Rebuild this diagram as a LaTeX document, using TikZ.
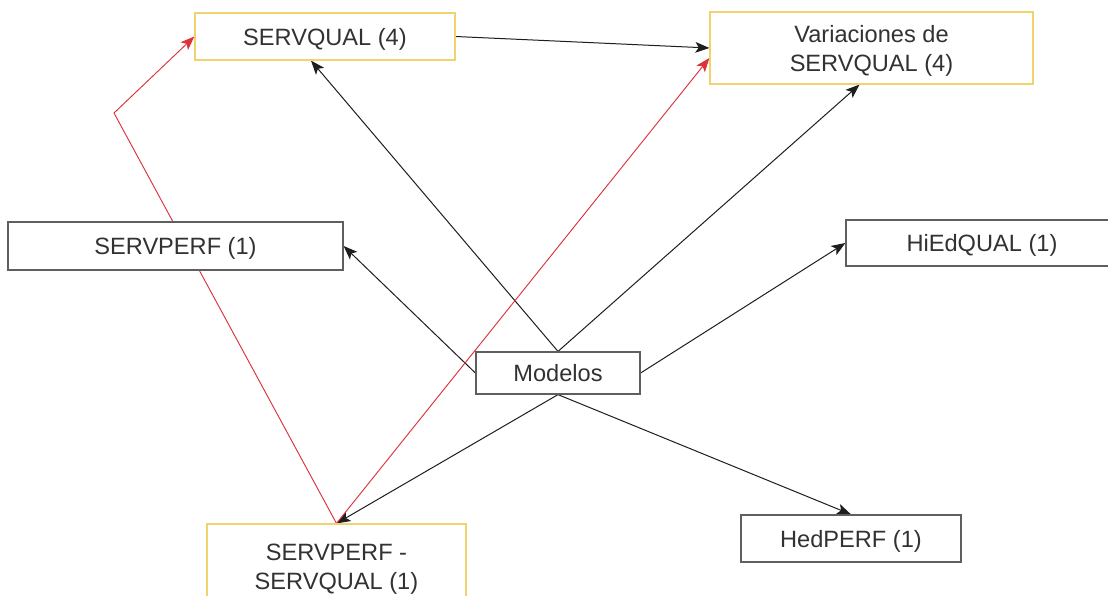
\documentclass[tikz,border=0pt]{standalone}
\usepackage{fontspec}
\setmainfont{Liberation Sans}
\usetikzlibrary{arrows.meta,backgrounds,calc}
\definecolor{boxgray}{RGB}{95,95,95}
\definecolor{boxyellow}{RGB}{240,210,110}
\definecolor{txt}{RGB}{50,50,50}
\definecolor{arrowblack}{RGB}{30,30,30}
\definecolor{arrowred}{RGB}{220,50,60}
\tikzset{
  box/.style={draw=boxgray, line width=0.9pt, fill=white, text=txt, align=center,
    inner sep=0pt, text depth=0pt, font=\fontsize{17.7}{21.8}\selectfont},
  ybox/.style={box, draw=boxyellow},
  blk/.style={draw=arrowblack, line width=0.75pt, -{Stealth[length=10.5pt,width=8pt,inset=2.5pt]}},
  redarr/.style={draw=arrowred, line width=0.7pt, -{Stealth[length=10.5pt,width=8pt,inset=2.5pt]}},
}
\begin{document}
\begin{tikzpicture}[x=0.75pt,y=-0.75pt]
\useasboundingbox (0,0) rectangle (1108,596);
\clip (0,0) rectangle (1108,596);
\node[ybox, minimum width=195pt, minimum height=35.25pt] (sq) at (325,36.5) {SERVQUAL (4)};
\node[ybox, minimum width=242.25pt, minimum height=54pt] (var) at (871.5,48) {Variaciones de\\SERVQUAL (4)};
\node[box, minimum width=251.25pt, minimum height=36pt] (sp) at (175.5,246) {SERVPERF (1)};
\node[box, minimum width=204pt, minimum height=34.5pt] (hi) at (982,243) {HiEdQUAL (1)};
\node[box, minimum width=123pt, minimum height=31.5pt] (mod) at (558,373) {Modelos};
\node[ybox, minimum width=194.25pt, minimum height=63.75pt] (sps) at (336.5,566.5) {SERVPERF -\\SERVQUAL (1)};
\node[box, minimum width=165pt, minimum height=35.25pt] (hed) at (851,538.5) {HedPERF (1)};
\coordinate (bend) at (114,113);
\begin{scope}[on background layer]
\fill[white] (0,0) rectangle (1108,596);
\draw[blk] (sq.east) -- (var.west);
\draw[blk] (mod.north) -- ([xshift=-10.5pt]sq.south);
\draw[blk] (mod.north) -- ([xshift=-9pt]var.south);
\draw[blk] (mod.east) -- (hi.west);
\draw[blk] (mod.south) -- (hed.north);
\draw[blk] (mod.south) -- (sps.north);
\draw[blk] (mod.west) -- (sp.east);
\draw[redarr] (sps.north) -- (bend) -- (sq.west);
\draw[redarr] (sps.north) -- ([yshift=-7.5pt]var.west);
\end{scope}
\end{tikzpicture}
\end{document}
